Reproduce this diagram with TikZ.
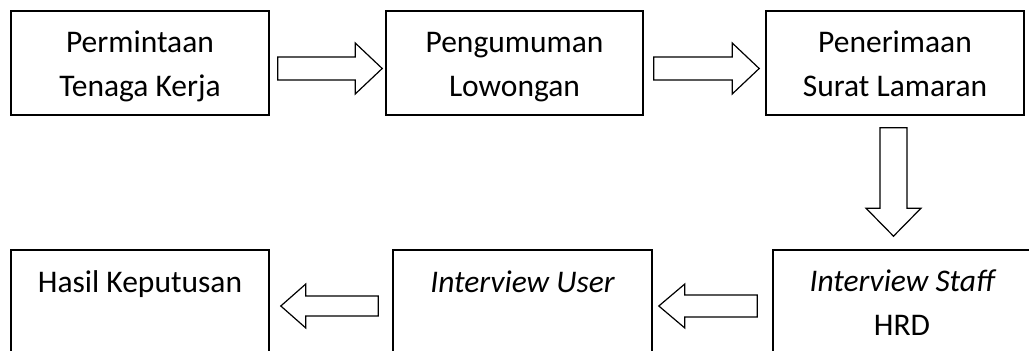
\documentclass[tikz,border=0pt]{standalone}
\usepackage{fontspec}
\setmainfont{Carlito}
\usetikzlibrary{calc}
\tikzset{
  box/.style={draw, line width=1.6pt, minimum width=258pt, minimum height=104pt, inner sep=0pt},
  txt/.style={align=center, font=\fontsize{31.5}{44}\selectfont, inner sep=0pt},
  blk/.style={draw, line width=1.2pt, line join=miter, fill=white}
}
\newcommand\rarr[5]{%
  \draw[blk] let \p1=(#1), \p2=(#2) in
    (\x1,\y1+#3pt) -- (\x2-#5pt,\y1+#3pt) -- (\x2-#5pt,\y1+#4pt) -- (\x2,\y1)
    -- (\x2-#5pt,\y1-#4pt) -- (\x2-#5pt,\y1-#3pt) -- (\x1,\y1-#3pt) -- cycle;}
\newcommand\larr[5]{%
  \draw[blk] let \p1=(#1), \p2=(#2) in
    (\x1,\y1+#3pt) -- (\x2+#5pt,\y1+#3pt) -- (\x2+#5pt,\y1+#4pt) -- (\x2,\y1)
    -- (\x2+#5pt,\y1-#4pt) -- (\x2+#5pt,\y1-#3pt) -- (\x1,\y1-#3pt) -- cycle;}
\newcommand\darr[5]{%
  \draw[blk] let \p1=(#1), \p2=(#2) in
    (\x1-#3pt,\y1) -- (\x1-#3pt,\y2+#5pt) -- (\x1-#4pt,\y2+#5pt) -- (\x1,\y2)
    -- (\x1+#4pt,\y2+#5pt) -- (\x1+#3pt,\y2+#5pt) -- (\x1+#3pt,\y1) -- cycle;}
\begin{document}
\begin{tikzpicture}[x=1pt,y=1pt]
\useasboundingbox (0,0) rectangle (1029,351);
% top row
\node[box] (b1) at (140,288) {};
\node[box, minimum width=257pt] (b2) at (514.5,288) {};
\node[box] (b3) at (895,288) {};
% bottom row
\node[box] (b4) at (140,49) {};
\node[box, minimum width=259pt] (b5) at (522.5,49) {};
\node[box] (b6) at (902,49) {};
% texts (base anchor = last line's baseline)
\node[txt, anchor=base] (t1) at ($(b1.north)+(0,-86)$) {Permintaan\\Tenaga Kerja};
\node[txt, anchor=base] (t2) at ($(b2.north)+(0,-86)$) {Pengumuman\\Lowongan};
\node[txt, anchor=base] (t3) at ($(b3.north)+(0,-86)$) {Penerimaan\\Surat Lamaran};
\node[txt, anchor=base] (t4) at ($(b4.north)+(0,-43)$) {Hasil Keputusan};
\node[txt, anchor=base] (t5) at ($(b5.north)+(0,-43)$) {\itshape Interview User};
\node[txt, anchor=base] (t6) at ($(b6.north)+(0,-86)$) {{\itshape Interview Staff}\\HRD};
% connectors
\coordinate (a1t) at ($(b1.east)+(8,-5.5)$);
\coordinate (a1h) at ($(b2.west)+(-3,0)$);
\rarr{a1t}{a1h}{11.5}{25.5}{27}
\coordinate (a2t) at ($(b2.east)+(10,-5.5)$);
\coordinate (a2h) at ($(b3.west)+(-6,0)$);
\rarr{a2t}{a2h}{11.5}{25.5}{27}
\coordinate (a3t) at ($(b3.south)+(-1.5,-12)$);
\coordinate (a3h) at ($(b6.north)+(0,13)$);
\darr{a3t}{a3h}{13.5}{27.5}{28}
\coordinate (a4t) at ($(b6.west)+(-15,-4)$);
\coordinate (a4h) at ($(b5.east)+(6,0)$);
\larr{a4t}{a4h}{11}{22}{26}
\coordinate (a5t) at ($(b5.west)+(-14,-4)$);
\coordinate (a5h) at ($(b4.east)+(11,0)$);
\larr{a5t}{a5h}{10}{22}{25}
\end{tikzpicture}
\end{document}
